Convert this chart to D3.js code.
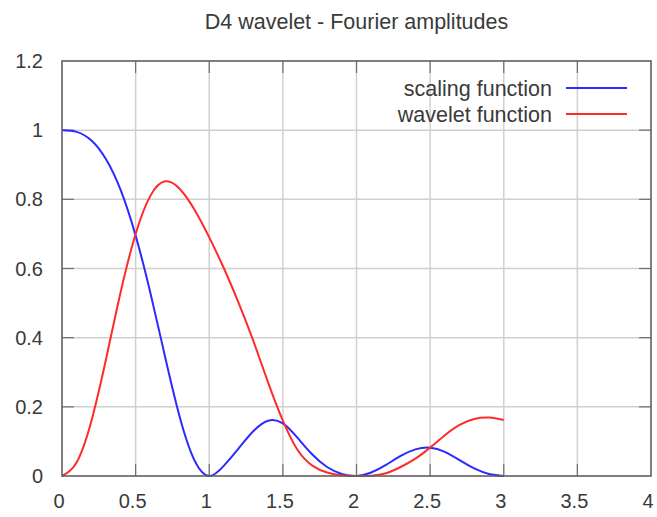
<!DOCTYPE html>
<html lang="en">
<head>
    <meta charset="UTF-8">
    <title>D4 wavelet</title>
    <style>
        body { margin: 0; background: #fff; }
        text { font-family: "Liberation Sans", Arial, sans-serif; fill: #3a3a3a; }
    </style>
</head>
<body>
    <div id="wrapper"></div>

    <script src="https://cdn.jsdelivr.net/npm/d3@7"></script>
    <script>
        // data, x step 0.1 from 0 to 3
        const xValues = d3.range(0, 31).map(i => i / 10);
        const scalingAmp = [1, 0.995, 0.97, 0.915, 0.825, 0.695, 0.53, 0.345, 0.17, 0.045,
            0, 0.03, 0.08, 0.13, 0.16, 0.152, 0.11, 0.062, 0.026, 0.006,
            0, 0.01, 0.032, 0.058, 0.077, 0.082, 0.07, 0.046, 0.022, 0.006, 0];
        const waveletAmp = [0, 0.04, 0.16, 0.34, 0.535, 0.7, 0.81, 0.852, 0.83, 0.77,
            0.69, 0.6, 0.5, 0.39, 0.27, 0.16, 0.075, 0.03, 0.01, 0.002,
            0, 0.001, 0.008, 0.026, 0.05, 0.082, 0.118, 0.148, 0.165, 0.169, 0.162];
        const xTicks = [0, 0.5, 1, 1.5, 2, 2.5, 3, 3.5, 4];
        const yTicks = [0, 0.2, 0.4, 0.6, 0.8, 1, 1.2];
        const seriesNames = ['scaling function', 'wavelet function'];
        const seriesColors = ['#2b2bff', '#ff2b2b'];

        const width = 657, height = 517;
        const plotLeft = 62, plotRight = 651, plotTop = 61, plotBottom = 476;

        const svg = d3.select('#wrapper').append('svg')
            .attr('width', width)
            .attr('height', height);

        const x = d3.scaleLinear().domain([0, 4]).range([plotLeft, plotRight]);
        const y = d3.scaleLinear().domain([0, 1.2]).range([plotBottom, plotTop]);

        // 格線
        svg.append('g').selectAll('line')
            .data(xTicks.slice(1, -1))
            .join('line')
            .attr('x1', d => x(d)).attr('x2', d => x(d))
            .attr('y1', plotTop).attr('y2', plotBottom)
            .attr('stroke', '#d0d0d0').attr('stroke-width', 1.5);

        svg.append('g').selectAll('line')
            .data(yTicks.slice(1, -1))
            .join('line')
            .attr('x1', plotLeft).attr('x2', plotRight)
            .attr('y1', d => y(d)).attr('y2', d => y(d))
            .attr('stroke', '#d0d0d0').attr('stroke-width', 1.5);

        // inward ticks on all four sides
        const tickLen = 12;
        const ticks = svg.append('g').attr('stroke', '#707070').attr('stroke-width', 1.2);
        xTicks.slice(1, -1).forEach(d => {
            ticks.append('line').attr('x1', x(d)).attr('x2', x(d)).attr('y1', plotBottom).attr('y2', plotBottom - tickLen);
            ticks.append('line').attr('x1', x(d)).attr('x2', x(d)).attr('y1', plotTop).attr('y2', plotTop + tickLen);
        });
        yTicks.slice(1, -1).forEach(d => {
            ticks.append('line').attr('x1', plotLeft).attr('x2', plotLeft + tickLen).attr('y1', y(d)).attr('y2', y(d));
            ticks.append('line').attr('x1', plotRight).attr('x2', plotRight - tickLen).attr('y1', y(d)).attr('y2', y(d));
        });

        // 曲線
        const line = d3.line()
            .x((d, i) => x(xValues[i]))
            .y(d => y(Math.max(0, d)))
            .curve(d3.curveNatural);

        [scalingAmp, waveletAmp].forEach((s, k) => {
            svg.append('path')
                .attr('d', line(s))
                .attr('fill', 'none')
                .attr('stroke', seriesColors[k])
                .attr('stroke-width', 2);
        });

        // 外框
        svg.append('rect')
            .attr('x', plotLeft).attr('y', plotTop)
            .attr('width', plotRight - plotLeft).attr('height', plotBottom - plotTop)
            .attr('fill', 'none')
            .attr('stroke', '#606060').attr('stroke-width', 1.6);

        // tick labels
        svg.append('g').selectAll('text')
            .data(xTicks)
            .join('text')
            .attr('x', d => x(d) - 3)
            .attr('y', 508)
            .attr('text-anchor', 'middle')
            .style('font-size', '20px')
            .text(d => d);

        svg.append('g').selectAll('text')
            .data(yTicks)
            .join('text')
            .attr('x', 43)
            .attr('y', d => y(d))
            .attr('dy', '0.35em')
            .attr('text-anchor', 'end')
            .style('font-size', '20px')
            .text(d => d);

        // 標題
        svg.append('text')
            .attr('x', (plotLeft + plotRight) / 2)
            .attr('y', 29)
            .attr('text-anchor', 'middle')
            .style('font-size', '21.5px')
            .text('D4 wavelet - Fourier amplitudes');

        // 圖例
        seriesNames.forEach((name, k) => {
            const ly = 88 + k * 26;
            svg.append('text')
                .attr('x', 552)
                .attr('y', ly)
                .attr('dy', '0.35em')
                .attr('text-anchor', 'end')
                .style('font-size', '21.5px')
                .text(name);
            svg.append('line')
                .attr('x1', 566).attr('x2', 627)
                .attr('y1', ly).attr('y2', ly)
                .attr('stroke', seriesColors[k])
                .attr('stroke-width', 2);
        });
    </script>
</body>
</html>
